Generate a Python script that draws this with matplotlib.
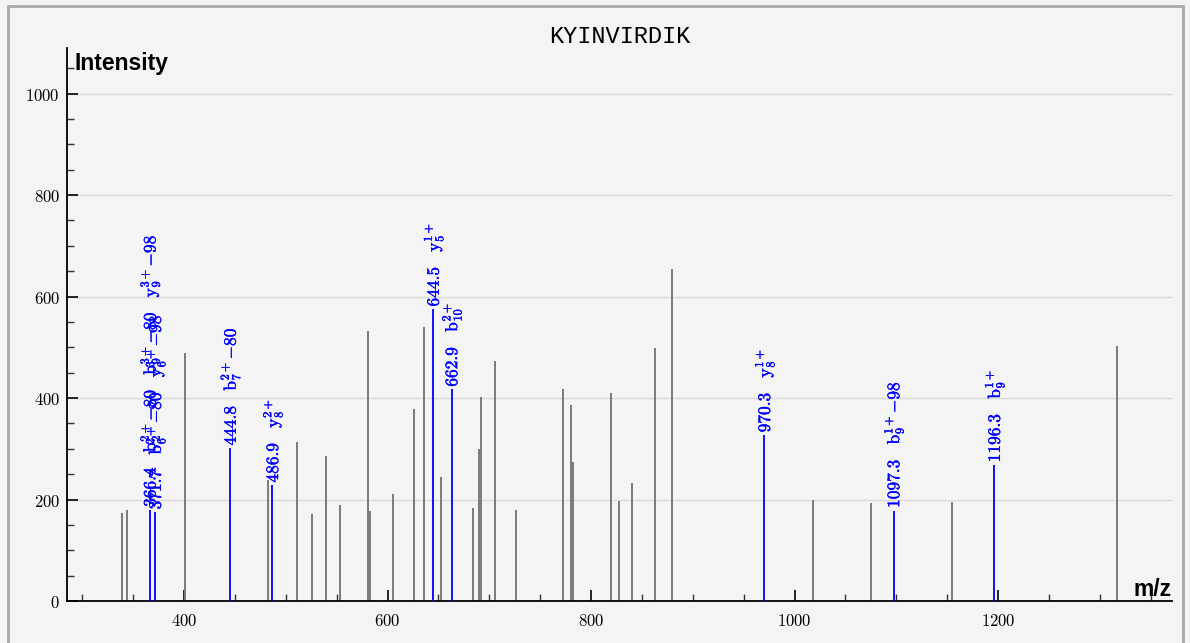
import matplotlib
matplotlib.use('Agg')
import matplotlib.pyplot as plt
import matplotlib.patheffects as pe
from matplotlib.patches import Rectangle
from matplotlib.ticker import MultipleLocator, FuncFormatter

plt.rcParams['mathtext.fontset'] = 'cm'

# --- DATA ---
title = "KYINVIRDIK"

# unannotated peaks
gray_mz = [339.4, 343.7, 400.7, 482.9, 510.8, 526.1, 539.9, 553.3, 580.5, 582.8,
           605.4, 626.0, 636.2, 652.9, 684.0, 690.2, 692.2, 705.3, 726.3, 772.5,
           780.0, 782.6, 819.3, 827.2, 840.3, 863.2, 879.6, 1018.2, 1075.5, 1155.1,
           1317.0]
gray_int = [173, 179, 488, 238, 313, 171, 286, 189, 533, 178,
            211, 378, 541, 244, 184, 299, 403, 473, 179, 418,
            386, 274, 410, 198, 232, 498, 654, 199, 194, 196,
            502]

# annotated peaks
ann_mz = [366.4, 371.7, 444.8, 486.9, 644.5, 662.9, 970.3, 1097.3, 1196.3]
ann_int = [180, 175, 301, 228, 575, 417, 327, 178, 268]
ann_ions = [
    [r'\mathrm{b}_{2}^{2+}{-80}', r'\mathrm{b}_{9}^{3+}{-80}', r'\mathrm{y}_{9}^{3+}{-98}'],
    [r'\mathrm{b}_{6}^{2+}{-80}', r'\mathrm{y}_{6}^{3+}{-98}'],
    [r'\mathrm{b}_{7}^{2+}{-80}'],
    [r'\mathrm{y}_{8}^{2+}'],
    [r'\mathrm{y}_{5}^{1+}'],
    [r'\mathrm{b}_{10}^{2+}'],
    [r'\mathrm{y}_{8}^{1+}'],
    [r'\mathrm{b}_{9}^{1+}{-98}'],
    [r'\mathrm{b}_{9}^{1+}'],
]

# --- PLOT ---
bg = '#f4f4f4'
fig = plt.figure(figsize=(11.9, 6.43), dpi=100, facecolor=bg)
ax = fig.add_axes([67/1190, 42/643, 1105/1190, 553/643], facecolor=bg)

ax.vlines(gray_mz, 0, gray_int, color='#7a7a7a', lw=1.4, zorder=2)
ax.vlines(ann_mz, 0, ann_int, color='#0000ff', lw=1.3, zorder=3)

for mz, inten, ions in zip(ann_mz, ann_int, ann_ions):
    s = '$' + f'{mz:.1f}' + ''.join(r'\quad' + ion for ion in ions) + '$'
    ax.annotate(s, xy=(mz, inten), xytext=(0, 2), textcoords='offset points',
                rotation=90, ha='center', va='bottom', color='#0000ff',
                fontsize=12.5, zorder=4,
                path_effects=[pe.withStroke(linewidth=0.3, foreground='#0000ff')])

ax.set_xlim(285, 1371)
ax.set_ylim(0, 1090)

ax.xaxis.set_major_locator(MultipleLocator(200))
ax.xaxis.set_minor_locator(MultipleLocator(50))
ax.yaxis.set_major_locator(MultipleLocator(200))
ax.yaxis.set_minor_locator(MultipleLocator(50))
fmt = FuncFormatter(lambda v, p: f'${v:.0f}$')
ax.xaxis.set_major_formatter(fmt)
ax.yaxis.set_major_formatter(fmt)
ax.tick_params(which='major', direction='in', length=8, width=1.2, labelsize=12,
               color='black')
ax.tick_params(which='minor', direction='in', length=5, width=1, color='#333333')
ax.tick_params(axis='x', which='major', pad=8)
ax.tick_params(axis='y', which='major', pad=5)

ax.grid(axis='y', which='major', color='#d9d9d9', lw=1, zorder=0)
ax.set_axisbelow(True)
for side in ['top', 'right']:
    ax.spines[side].set_visible(False)
for side in ['left', 'bottom']:
    ax.spines[side].set_linewidth(1.3)

ax.set_title(title, family='Liberation Mono', fontsize=17, pad=3)
ax.text(0.007, 0.960, 'Intensity', transform=ax.transAxes, family='Liberation Sans',
        fontweight='bold', fontsize=16.5, va='baseline', ha='left')
ax.text(1.0, 0.009, 'm/z', transform=ax.transAxes, family='Liberation Sans',
        fontweight='bold', fontsize=16.5, va='baseline', ha='right')

fig.patches.append(Rectangle((8/1190, -0.05), 1175/1190, 1.05 - 6/643,
                             transform=fig.transFigure, fill=False,
                             edgecolor='#aaaaaa', lw=2))

fig.savefig('out.png', dpi=100, facecolor=bg)
